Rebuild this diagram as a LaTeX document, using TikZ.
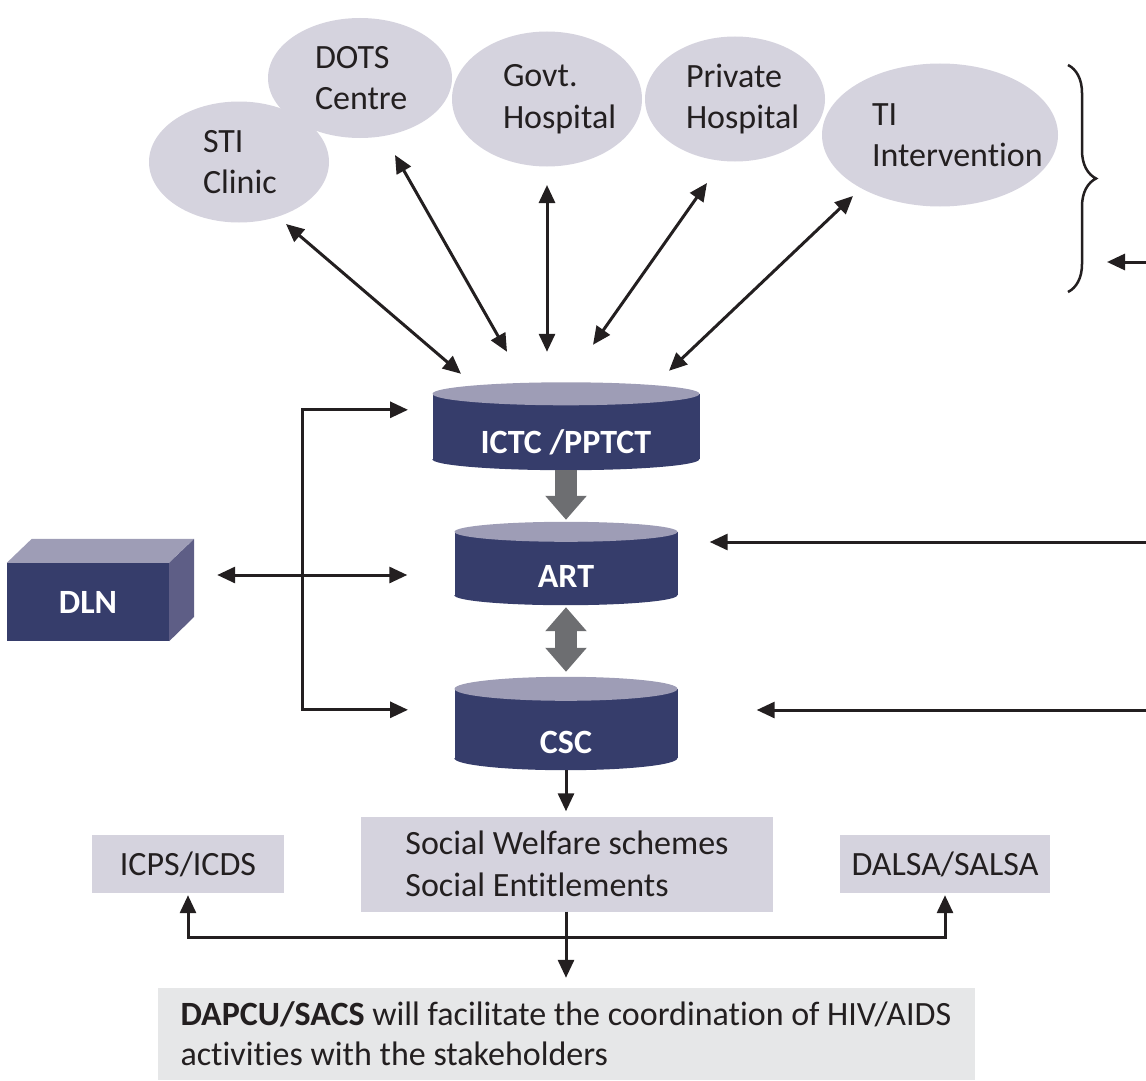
\documentclass[tikz,border=0pt]{standalone}
\usepackage{fontspec}
\setmainfont{Carlito}[Ligatures=NoCommon]
\usetikzlibrary{arrows.meta,positioning,shapes.geometric,decorations.pathreplacing}
\definecolor{dnavy}{HTML}{363D6B}
\definecolor{dnavytop}{HTML}{9E9DB6}
\definecolor{dnavyside}{HTML}{5E5E86}
\definecolor{dcloudfill}{HTML}{D5D3DE}
\definecolor{dnotefill}{HTML}{E6E7E8}
\definecolor{dgrayarrow}{HTML}{6D6E71}
\definecolor{dtext}{HTML}{231F20}
\hfuzz=1000pt
\hbadness=10000
\tikzset{
  dcloud/.style={ellipse, fill=dcloudfill, inner sep=0pt, align=left, text=dtext, font=\fontsize{34}{41.5}\selectfont},
  dcylbody/.style={fill=dnavy, inner sep=0pt, text=white, text depth=0pt, font=\bfseries\fontsize{34}{41.5}\selectfont},
  dcube/.style={fill=dnavy, inner sep=0pt, text=white, font=\bfseries\fontsize{34}{41.5}\selectfont},
  dbox/.style={fill=dcloudfill, inner sep=0pt, align=left, text=dtext, font=\fontsize{34}{41.5}\selectfont},
  dnote/.style={fill=dnotefill, inner xsep=17.5pt, inner ysep=0pt, align=left, text=dtext, font=\fontsize{34}{40}\selectfont},
  darrow/.style={-{Triangle[length=18pt,width=16pt]}, line width=3pt, draw=dtext},
  dboth/.style={{Triangle[length=18pt,width=16pt]}-{Triangle[length=18pt,width=16pt]}, line width=3pt, draw=dtext},
  dblock/.style={-{Triangle[length=24pt,width=40pt]}, line width=22pt, draw=dgrayarrow},
  dblockboth/.style={{Triangle[length=24pt,width=40pt]}-{Triangle[length=24pt,width=40pt]}, line width=22pt, draw=dgrayarrow},
  dbrace/.style={decorate, decoration={brace, amplitude=28pt}, line width=2.5pt, draw=dtext}
}
\begin{document}
\begin{tikzpicture}[x=1pt,y=-1pt]
\useasboundingbox (0,0) rectangle (1146,1081);
% service points
\node[dcloud, minimum width=184pt, minimum height=120pt, text width=90pt] (dots) at (360,78) {DOTS\\Centre};
\node[dcloud, minimum width=180pt, minimum height=121pt, text width=72pt] (sti) at (239,162) {STI\\Clinic};
\node[dcloud, minimum width=190pt, minimum height=135pt, text width=88pt] (govt) at (547,99) {Govt.\\Hospital};
\node[dcloud, minimum width=180pt, minimum height=125pt, text width=98pt] (pvt) at (735,99) {Private\\Hospital};
\node[dcloud, minimum width=236pt, minimum height=143pt, text width=136pt] (ti) at (940,135) {TI\\Intervention};
\coordinate (bracetop) at (1068,65);
\coordinate (bracebot) at (1068,292);
\draw[dbrace] (bracetop) -- (bracebot);
\coordinate (tiin) at (1146,262);
\coordinate (bracein) at (1107,262);
\draw[darrow] (tiin) -- (bracein);
% centres (drums)
\node[dcylbody, minimum width=267pt, minimum height=65pt, text height=53pt] (ictc) at (566,426.5) {ICTC /PPTCT};
\fill[dnavy] (ictc.south west) arc[start angle=180, end angle=360, x radius=133.5pt, y radius=11pt] -- cycle;
\fill[dnavytop] (ictc.north) ellipse[x radius=133.5pt, y radius=11.5pt];
\node[dcylbody, minimum width=223pt, minimum height=63pt, text height=47pt] (art) at (566,563.5) {ART};
\fill[dnavy] (art.south west) arc[start angle=180, end angle=360, x radius=111.5pt, y radius=10pt] -- cycle;
\fill[dnavytop] (art.north) ellipse[x radius=111.5pt, y radius=10pt];
\node[dcylbody, minimum width=223pt, minimum height=69pt, text height=59pt] (csc) at (566,723.5) {CSC};
\fill[dnavy] (csc.south west) arc[start angle=180, end angle=360, x radius=111.5pt, y radius=12pt] -- cycle;
\fill[dnavytop] (csc.north) ellipse[x radius=111.5pt, y radius=12pt];
\draw[dblock] ([yshift=-11pt]ictc.south) -- ([yshift=12pt]art.north);
\draw[dblockboth] ([yshift=-12pt]art.south) -- ([yshift=17pt]csc.north);
\draw[dboth] ([shift={(47,62)}]sti.center) -- ([shift={(-105,-20)}]ictc.north);
\draw[dboth] ([shift={(35,77)}]dots.center) -- ([shift={(-59,-42)}]ictc.north);
\draw[dboth] ([shift={(0,86)}]govt.center) -- ([shift={(-19,-42)}]ictc.north);
\draw[dboth] ([shift={(-28,84)}]pvt.center) -- ([shift={(27,-49)}]ictc.north);
\draw[dboth] ([shift={(-87,61)}]ti.center) -- ([shift={(103,-23)}]ictc.north);
% DLN
\node[dcube, minimum width=162pt, minimum height=78pt] (dln) at (88,602) {DLN};
\fill[dnavytop] (dln.north west) -- ++(25,-24) -- ++(162,0) -- (dln.north east) -- cycle;
\fill[dnavyside] (dln.north east) -- ++(25,-24) -- ++(0,78) -- (dln.south east) -- cycle;
\coordinate (lbus) at (302,575);
\draw[dboth] ([shift={(-158,16)}]ictc.north) -| (lbus) |- ([shift={(-158,21)}]csc.north);
\draw[dboth] ([xshift=48pt]dln.east |- lbus) -- ([xshift=-47pt]art.west |- lbus);
\coordinate (artin) at (1146,542);
\draw[darrow] (artin) -- ([xshift=32pt]art.east |- artin);
\coordinate (cscin) at (1146,710);
\draw[darrow] (cscin) -- ([xshift=79pt]csc.east |- cscin);
% schemes and stakeholders
\node[dbox, minimum width=412pt, minimum height=95pt] (social) at (567,864) {Social Welfare schemes\\Social Entitlements};
\node[dbox, minimum width=192pt, minimum height=58pt] (icps) at (188,864) {ICPS/ICDS};
\node[dbox, minimum width=210pt, minimum height=58pt] (dalsa) at (945,864) {DALSA/SALSA};
\node[dnote, minimum width=817pt, minimum height=92pt] (note) at (566,1034) {\textbf{DAPCU/SACS} will facilitate the coordination of HIV/AIDS\\activities with the stakeholders};
\draw[darrow, shorten >=5pt] ([yshift=-12pt]csc.south) -- (csc.south |- social.north);
\coordinate (hub) at (566,937);
\draw[darrow, shorten >=10pt] (social.south -| hub) -- (note.north -| hub);
\draw[darrow, shorten >=2pt] (hub) -| (icps.south);
\draw[darrow, shorten >=2pt] (hub) -| (dalsa.south);
\end{tikzpicture}
\end{document}
